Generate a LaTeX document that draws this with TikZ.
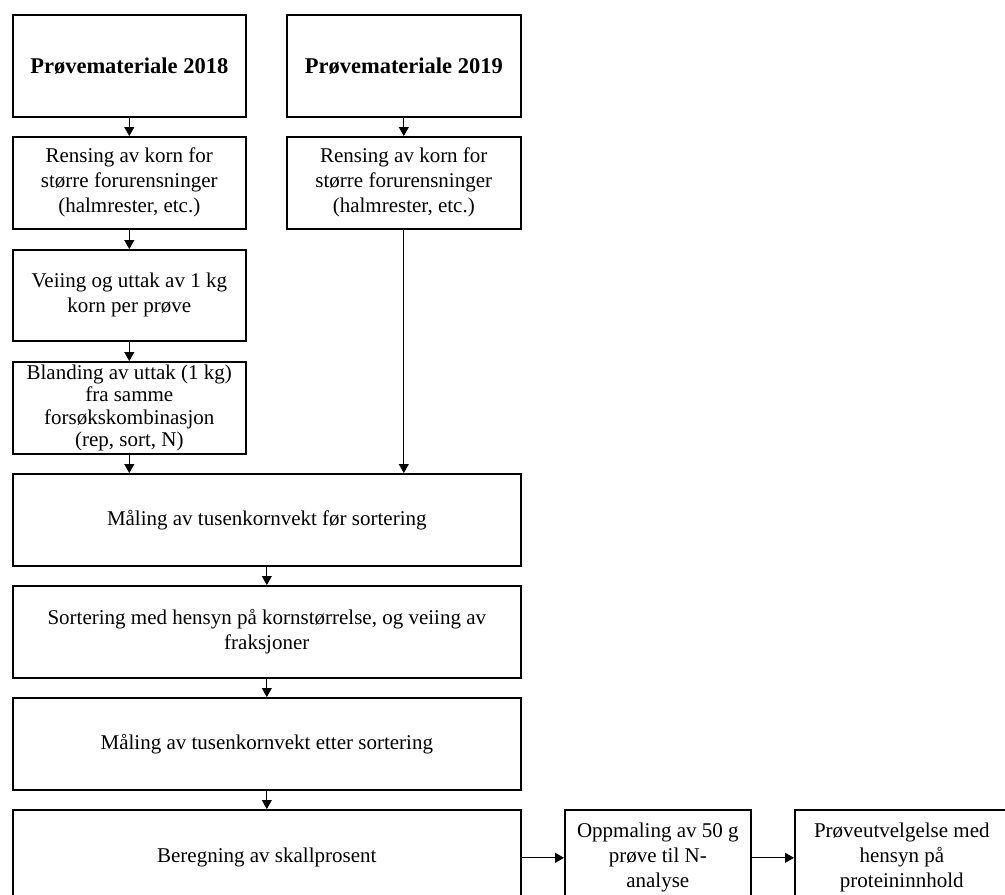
\documentclass[tikz,border=0pt]{standalone}
\usepackage{fontspec}
\setmainfont{Liberation Serif}
\usetikzlibrary{arrows.meta}

\begin{document}
\begin{tikzpicture}[x=1pt,y=-1pt,
  boks/.style={draw, line width=1.6pt, anchor=north west, align=center, inner sep=2pt,
    font=\fontsize{21}{25}\selectfont},
  tittel/.style={boks, font=\fontsize{22.5}{27}\selectfont\bfseries},
  pil/.style={line width=0.8pt, -{Triangle[width=10pt,length=9pt]}}]
\useasboundingbox (0,0) rectangle (1005,895);
\clip (0,0) rectangle (1005,895);
%
\node[tittel, minimum width=233, minimum height=102] (p2018) at (12,14) {Prøvemateriale 2018};
\node[tittel, minimum width=234, minimum height=102] (p2019) at (286,14) {Prøvemateriale 2019};
\node[boks, minimum width=233, minimum height=92] (rens18) at (12,136) {Rensing av korn for\\større forurensninger\\(halmrester, etc.)};
\node[boks, minimum width=234, minimum height=92] (rens19) at (286,136) {Rensing av korn for\\større forurensninger\\(halmrester, etc.)};
\node[boks, minimum width=233, minimum height=91] (veiing) at (12,249) {Veiing og uttak av 1 kg\\korn per prøve};
\node[boks, minimum width=233, minimum height=92, font=\fontsize{21}{22.5}\selectfont] (blanding) at (12,361) {Blanding av uttak (1 kg)\\fra samme\\forsøkskombinasjon\\(rep, sort, N)};
\node[boks, minimum width=508, minimum height=92] (tkvfoer) at (12,473) {Måling av tusenkornvekt før sortering};
\node[boks, minimum width=508, minimum height=92] (sortering) at (12,585) {Sortering med hensyn på kornstørrelse, og veiing av\\fraksjoner};
\node[boks, minimum width=508, minimum height=92] (tkvetter) at (12,697) {Måling av tusenkornvekt etter sortering};
\node[boks, minimum width=508, minimum height=96] (skall) at (12,809) {Beregning av skallprosent};
\node[boks, minimum width=186, minimum height=96] (oppmaling) at (564,809) {Oppmaling av 50 g\\prøve til N-\\analyse};
\node[boks, minimum width=214, minimum height=96] (utvalg) at (794,809) {Prøveutvelgelse med\\hensyn på\\proteininnhold};
%
\foreach \a/\b in {p2018/rens18, rens18/veiing, veiing/blanding, p2019/rens19,
  tkvfoer/sortering, sortering/tkvetter, tkvetter/skall}{
\draw[pil] (\a.south) -- (\b.north);
}
\draw[pil] (blanding.south) -- (blanding.south |- tkvfoer.north);
\draw[pil] (rens19.south) -- (rens19.south |- tkvfoer.north);
\draw[pil] (skall.east) -- (oppmaling.west);
\draw[pil] (oppmaling.east) -- (utvalg.west);
\end{tikzpicture}
\end{document}
